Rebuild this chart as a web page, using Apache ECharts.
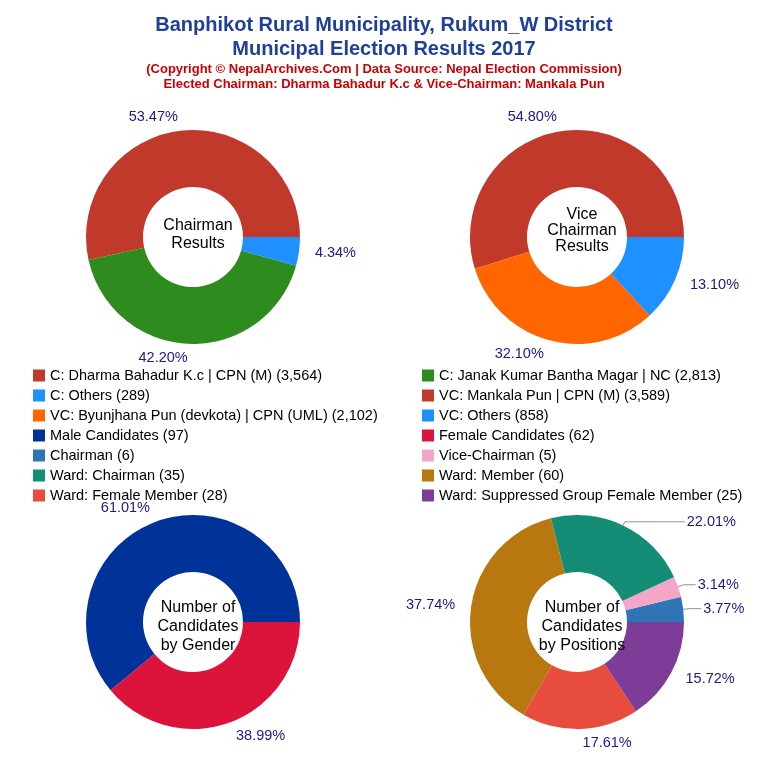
<!DOCTYPE html>
<html><head><meta charset="utf-8">
<script src="https://cdn.jsdelivr.net/npm/echarts@6/dist/echarts.min.js"></script>
<style>html,body{margin:0;background:#fff}#c{width:768px;height:768px}</style>
</head><body><div id="c"></div>
<script>
var chairNames = ['C: Dharma Bahadur K.c | CPN (M) (3,564)', 'C: Janak Kumar Bantha Magar | NC (2,813)', 'C: Others (289)'];
var chairValues = [3564, 2813, 289];
var chairColors = ['#c0392b', '#2e8b1e', '#1e90ff'];

var viceNames = ['VC: Mankala Pun | CPN (M) (3,589)', 'VC: Byunjhana Pun (devkota) | CPN (UML) (2,102)', 'VC: Others (858)'];
var viceValues = [3589, 2102, 858];
var viceColors = ['#c0392b', '#ff6600', '#1e90ff'];

var genderNames = ['Male Candidates (97)', 'Female Candidates (62)'];
var genderValues = [97, 62];
var genderColors = ['#003399', '#dc143c'];

var posNames = ['Chairman (6)', 'Vice-Chairman (5)', 'Ward: Chairman (35)', 'Ward: Member (60)', 'Ward: Female Member (28)', 'Ward: Suppressed Group Female Member (25)'];
var posValues = [6, 5, 35, 60, 28, 25];
var posColors = ['#2e75b6', '#f4a6c8', '#138d75', '#b8770f', '#e74c3c', '#7d3c98'];

var legendLeft = [chairNames[0], chairNames[2], viceNames[1], genderNames[0], posNames[0], posNames[2], posNames[4]];
var legendRight = [chairNames[1], viceNames[0], viceNames[2], genderNames[1], posNames[1], posNames[3], posNames[5]];

var FONT = 'Liberation Sans, Arial';

function mkPie(names, values, colors, cx, cy, lines) {
  var sum = values.reduce(function (a, b) { return a + b; }, 0);
  return {
    type: 'pie', center: [cx, cy], radius: [50, 107],
    startAngle: 0, clockwise: false, silent: true,
    label: {
      show: true, position: 'outside', color: '#1a1a8c', fontSize: 14.5,
      fontFamily: FONT, distanceToLabelLine: 2,
      formatter: function (p) { return (p.value / sum * 100).toFixed(2) + '%'; }
    },
    labelLine: { show: false, length: 14, length2: 0 },
    data: names.map(function (n, i) {
      var d = { name: n, value: values[i], itemStyle: { color: colors[i] } };
      if (lines && lines[i]) d.labelLine = { show: true, length: lines[i][0], length2: lines[i][1], lineStyle: { color: '#777', width: 0.8 } };
      return d;
    })
  };
}

function centerText(t, x, y, lh) {
  return { text: t, left: x, top: y, textAlign: 'center',
    textStyle: { fontSize: 16, fontWeight: 'normal', color: '#000', fontFamily: FONT, lineHeight: lh } };
}

var chart = echarts.init(document.getElementById('c'));
chart.setOption({
  animation: false,
  title: [
    { text: 'Banphikot Rural Municipality, Rukum_W District\nMunicipal Election Results 2017', left: 'center', top: 8,
      textStyle: { fontSize: 20, fontWeight: 'bold', color: '#1f3f99', lineHeight: 24, fontFamily: FONT } },
    { text: '(Copyright © NepalArchives.Com | Data Source: Nepal Election Commission)\nElected Chairman: Dharma Bahadur K.c & Vice-Chairman: Mankala Pun', left: 'center', top: 57,
      textStyle: { fontSize: 13, fontWeight: 'bold', color: '#cc0000', lineHeight: 15, fontFamily: FONT } },
    centerText('Chairman\nResults', 193, 212, 18),
    centerText('Vice\nChairman\nResults', 577, 202, 16),
    centerText('Number of\nCandidates\nby Gender', 193, 593, 19),
    centerText('Number of\nCandidates\nby Positions', 577, 593, 19)
  ],
  legend: [
    { data: legendLeft, orient: 'vertical', left: 28, top: 363, itemGap: 5, icon: 'rect', itemWidth: 12, itemHeight: 12,
      selectedMode: false, textStyle: { fontSize: 14.5, color: '#000', fontFamily: FONT } },
    { data: legendRight, orient: 'vertical', left: 417, top: 363, itemGap: 5, icon: 'rect', itemWidth: 12, itemHeight: 12,
      selectedMode: false, textStyle: { fontSize: 14.5, color: '#000', fontFamily: FONT } }
  ],
  series: [
    mkPie(chairNames, chairValues, chairColors, 193, 237),
    mkPie(viceNames, viceValues, viceColors, 577, 237),
    mkPie(genderNames, genderValues, genderColors, 193, 622),
    mkPie(posNames, posValues, posColors, 577, 622, [[6, 12], [6, 12], [4, 60], null, null, null])
  ]
});
</script>
</body></html>
